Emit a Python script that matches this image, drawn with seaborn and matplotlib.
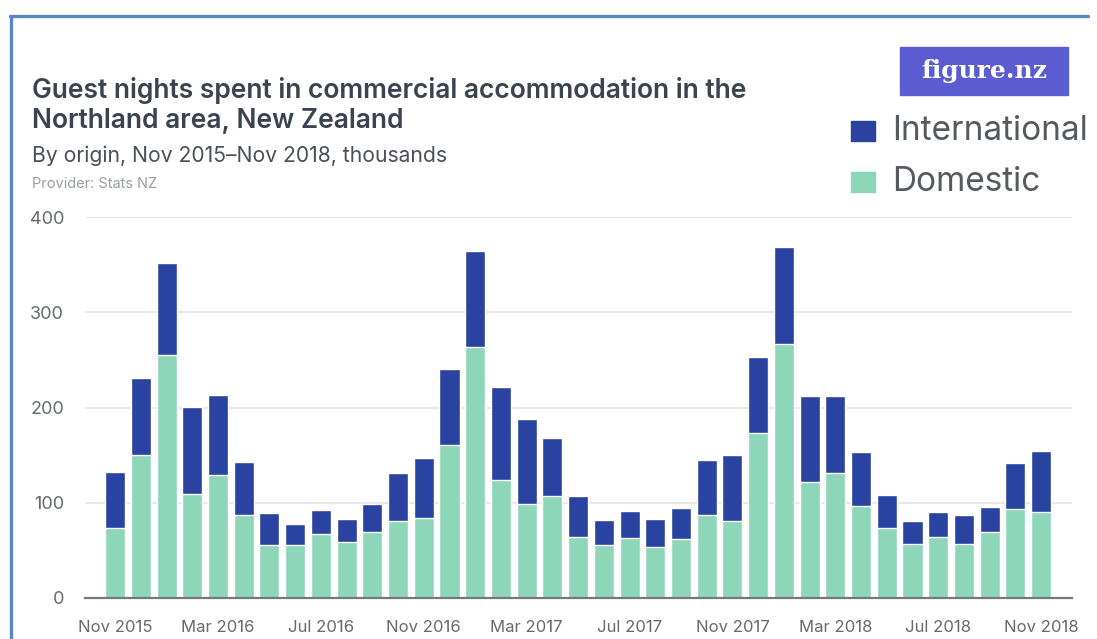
import matplotlib
matplotlib.use("Agg")
import matplotlib.pyplot as plt
import matplotlib.patches as mpatches
from matplotlib.lines import Line2D
import seaborn as sns
import pandas as pd

months = ["Nov 2015", "Dec 2015", "Jan 2016", "Feb 2016", "Mar 2016", "Apr 2016", "May 2016",
          "Jun 2016", "Jul 2016", "Aug 2016", "Sep 2016", "Oct 2016", "Nov 2016", "Dec 2016",
          "Jan 2017", "Feb 2017", "Mar 2017", "Apr 2017", "May 2017", "Jun 2017", "Jul 2017",
          "Aug 2017", "Sep 2017", "Oct 2017", "Nov 2017", "Dec 2017", "Jan 2018", "Feb 2018",
          "Mar 2018", "Apr 2018", "May 2018", "Jun 2018", "Jul 2018", "Aug 2018", "Sep 2018",
          "Oct 2018", "Nov 2018"]
domestic = [73, 150, 255, 109, 129, 87, 56, 56, 67, 59, 69, 81, 84, 161,
            263, 124, 99, 107, 64, 56, 63, 54, 62, 87, 81, 173, 267, 122,
            131, 97, 73, 57, 64, 57, 69, 93, 90]
total = [132, 231, 352, 201, 213, 143, 89, 78, 92, 83, 99, 131, 147, 240,
         364, 222, 188, 168, 107, 82, 91, 83, 95, 145, 150, 253, 369, 212,
         212, 153, 108, 81, 90, 87, 96, 142, 154]
international = [t - d for t, d in zip(total, domestic)]
tick_labels = ["Nov 2015", "Mar 2016", "Jul 2016", "Nov 2016", "Mar 2017", "Jul 2017",
               "Nov 2017", "Mar 2018", "Jul 2018", "Nov 2018"]
yticks = [0, 100, 200, 300, 400]

C_INT = "#2a42a0"
C_DOM = "#8ed6b9"
TXT = "#3b4250"
GRAY = "#666a70"

sns.set_style("white")
plt.rcParams["font.family"] = ["Inter", "DejaVu Sans"]

df = pd.DataFrame({"month": months, "Domestic": domestic, "International": international,
                   "total": total})

fig = plt.figure(figsize=(10.97, 6.39), dpi=100)
W, H = 1097, 639
ax = fig.add_axes([85 / W, 1 - 598 / H, (1072 - 85) / W, (598 - 217) / H])

sns.barplot(data=df, x="month", y="total", color=C_INT, width=0.78, ax=ax,
            saturation=1, zorder=3)
sns.barplot(data=df, x="month", y="Domestic", color=C_DOM, width=0.78, ax=ax,
            saturation=1, zorder=4)

ax.set_xlim(-1.17, 37.2)
ax.set_ylim(0, 400)
ax.set_xlabel("")
ax.set_ylabel("")
ax.set_yticks(yticks)
ax.set_yticklabels([str(v) for v in yticks], fontsize=13, color=GRAY)
pos = [months.index(m) for m in tick_labels]
ax.set_xticks(pos)
ax.set_xticklabels(tick_labels, fontsize=12, color=GRAY)
ax.tick_params(axis="x", direction="out", length=6, width=1.2, color="#777777", pad=10)
ax.tick_params(axis="y", length=0, pad=15)
for lab in ax.get_yticklabels():
    lab.set_horizontalalignment("right")
ax.grid(axis="y", color="#e4e4e4", linewidth=1.2, zorder=0)
ax.set_axisbelow(True)
for s in ["top", "right", "left"]:
    ax.spines[s].set_visible(False)
ax.spines["bottom"].set_color("#777777")
ax.spines["bottom"].set_linewidth(1.6)
ax.spines["bottom"].set_zorder(5)

# Border frame
fig.add_artist(Line2D([10 / W, 1088 / W], [1 - 16 / H, 1 - 16 / H], color="#5b87c5",
                      linewidth=2.4, transform=fig.transFigure))
fig.add_artist(Line2D([11 / W, 11 / W], [0, 1 - 16 / H], color="#5b87c5",
                      linewidth=2.4, transform=fig.transFigure))

# Titles
fig.text(32 / W, 1 - 90 / H, "Guest nights spent in commercial accommodation in the",
         fontsize=19, fontweight="semibold", color=TXT, va="center", ha="left")
fig.text(32 / W, 1 - 121 / H, "Northland area, New Zealand",
         fontsize=19, fontweight="semibold", color=TXT, va="center", ha="left")
fig.text(32 / W, 1 - 156 / H, "By origin, Nov 2015\u2013Nov 2018, thousands",
         fontsize=15.2, color="#4a4f58", va="center", ha="left")
fig.text(32 / W, 1 - 184 / H, "Provider: Stats NZ",
         fontsize=10.5, color="#9a9ea5", va="center", ha="left")

# Logo
fig.add_artist(mpatches.Rectangle((900 / W, 1 - 95 / H), 168 / W, 48 / H,
                                  transform=fig.transFigure, color="#5b5bd2", zorder=2))
fig.text(984 / W, 1 - 71 / H, "figure.nz", fontsize=18, fontweight="bold",
         family=["DejaVu Serif"], color="white", va="center", ha="center", zorder=3)

# Legend
for label, col, cy in [("International", C_INT, 131), ("Domestic", C_DOM, 182)]:
    fig.add_artist(mpatches.Rectangle((851 / W, 1 - (cy + 10) / H), 24 / W, 20 / H,
                                      transform=fig.transFigure, color=col))
    fig.text(892 / W, 1 - cy / H, label, fontsize=24, color="#555a60",
             va="center", ha="left")

fig.savefig("out.png", dpi=100, facecolor="white")
